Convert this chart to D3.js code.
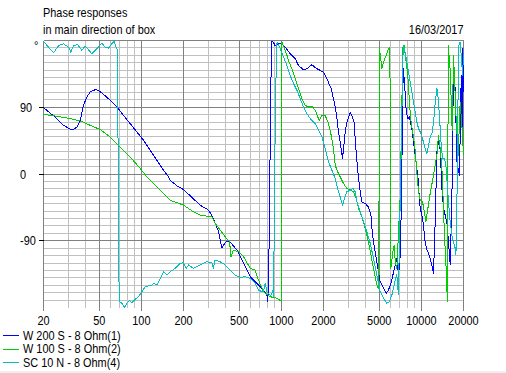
<!DOCTYPE html>
<html><head><meta charset="utf-8">
<script src="https://cdn.jsdelivr.net/npm/d3@7"></script>
<style>
body{margin:0;background:#fff;overflow:hidden}
svg{display:block}
text{font-family:"Liberation Sans",Arial,sans-serif;font-size:13px;fill:#000}
text.lg{font-size:12px}
</style>
</head><body><svg id="c" width="506" height="373"></svg>
<script>
// ---------- data ----------
const titleLines = ["Phase responses", "in main direction of box"];
const dateLabel = "16/03/2017";
const freqTicks = [20, 50, 100, 200, 500, 1000, 2000, 5000, 10000, 20000];
const freqTickLabels = ["20", "50", "100", "200", "500", "1000", "2000", "5000", "10000", "20000"];
const phaseTicks = [90, 0, -90];
const phaseTickLabels = ["90", "0", "-90"];
const seriesNames = ["W 200 S - 8 Ohm(1)", "W 100 S - 8 Ohm(2)", "SC 10 N - 8 Ohm(4)"];
const seriesColors = ["#0000ff", "#00cc00", "#00c0c0"];

const blueFreq = [20,22.3,24.9,27.8,31.0,32.7,34.7,36.6,38.6,40.8,43.1,46.8,49.4,53.7,59.9,67.6,74.5,83.2,92.9,103.6,115.6,129,143.9,156.3,160.7,180,200,263,302,327,356,376,386,408,431,481,537,599,706,788,801,815,828,841,855,879,903,955,1010,1065,1156,1256,1325,1439,1521,1652,1745,1892,2000,2114,2270,2356,2426,2494,2560,2630,2704,2734,2780,2858,2938,3104,3192,3312,3366,3468,3557,3657,3758,3972,4189,4364,4436,4552,4677,4808,4943,5081,5371,5612,5822,6055,6262,6505,6683,6866,6980,7064,7146,7179,7262,7330,7448,7534,7656,7798,8016,8222,8549,8790,9036,9290,9551,9660,9818,10093,10350,10640,10950,11250,11560,11890,12220,12570,12910,13250,13640,14020,14390,15200,15630,16070,16520,16980,17460,17950,18720,19270,19580,19800,20000];
const bluePhase = [89.5,82.2,74.7,65.7,60.3,60.3,63.4,72.4,92.6,103.8,110.5,113.7,112.8,107.4,99.3,89.5,79.1,68,56.7,45.5,32,18.6,5.1,-3.9,-8.6,-16,-20.9,-42,-48.7,-59.9,-77.9,-99.5,-95.8,-90.4,-91.8,-102.6,-120.5,-138.5,-152,-163,-172,-113,2,119,179,177,173,175.6,175.6,171,162,155.5,146.4,140.6,142,147.4,143.3,139.7,137.4,128.5,115,101.6,90.3,74.7,56.7,43,27.6,20.9,34.3,56.7,70,82.8,79,70,47.8,16.3,-6,-24,-37.5,-39.7,-44.3,-55.5,-73.4,-91.4,-104.8,-118.3,-131.8,-145.2,-154,-160.8,-156.4,-147.4,-136.2,-122.7,-113.7,-136.2,-122.7,-109.3,-77.9,-28.5,7.4,97,142,128.5,110.5,83.6,74.7,76.9,61.2,43.2,25.3,7.4,-10.6,-33,-46.4,-55.5,-68.9,-91.4,-102.6,-107,-113.7,-122.7,-133.9,-62,29.7,43.2,32,-19.5,-46.4,-64.5,-91.4,-122.7,-35,150.9,112.8,16.3,-1.6,133,60,170,110];

const greenFreq = [20,24.9,31.0,36.6,43.1,50.8,59.9,70.6,83.2,98.2,109.5,160.7,200,235.6,263,319,336,366,397,427,436,455,494,537,599,650,686,745,832,929,970,999,1003,1007,1036,1065,1096,1125,1188,1256,1325,1403,1479,1563,1652,1745,1862,1950,2056,2172,2270,2356,2426,2494,2630,2780,2938,3104,3274,3428,3557,3758,3972,4189,4364,4552,4755,4862,4943,4985,5024,5227,5371,5612,5822,5920,5990,6040,6055,6262,6400,6505,6683,7064,7262,7380,7534,7656,7870,8090,8222,8420,8549,8790,9036,9290,9551,9818,10190,10520,10770,11130,11560,12220,12910,13250,13640,14020,14390,14620,14960,15200,15380,15560,16070,16600,16980,17740,18340,18930,19580,20000];
const greenPhase = [80.5,77.8,74.7,71.5,65.7,59.9,49.9,36.5,23,7.4,-3.9,-35.3,-42,-51,-55.5,-57.7,-66.6,-75.6,-84.7,-91.4,-111.6,-102.6,-104.8,-111.6,-127.2,-129.5,-142.9,-158.7,-165.4,-167.6,-170,-170,-89,178,173,166.6,160,153,142,128.5,115,101.6,92.6,90.3,91.3,85.9,72.4,79.1,79.1,68,52.2,34.3,11.8,5.1,-3.9,-12.8,-19.5,-21.8,-24,-33,-46.4,-57.7,-73.4,-91.4,-109.3,-127.2,-145.2,-152,-153.7,-35,169,142,151,160,169,170,117,-120,-127,-105,-96,-118,-127,-28.5,97,171,173,162,144,121.8,94.9,72.4,63.4,50,32,0.7,-24,-35,-37.5,-51,-64.5,-46.4,-26.2,-1.6,25.3,52,34,7.4,-46,-82,-118,-154,-172,173,140,59,160,72,25,97,59,25];

const cyanFreq = [20,21.7,23.6,25.6,27.8,30.2,31.4,32.7,35.0,37.6,39.7,41.9,44.3,48.1,52.2,55.2,58.2,61.6,64.0,66.1,67.6,67.9,68.6,69.8,72.6,75.8,78.8,82.3,85.5,90.4,95.5,100.9,106.5,112.5,118.9,123.6,129,136.4,143.9,152.1,160.7,174.6,189.3,200,209,217,235.6,263,294,319,327,336,366,397,431,468,506,552,599,650,686,726,745,767,788,809,840,867,881,893,903,914,923,933,981,1036,1096,1156,1222,1292,1364,1439,1521,1607,1745,1842,1950,2056,2172,2270,2426,2560,2674,2734,2825,2938,3104,3244,3366,3468,3657,3862,4083,4316,4552,4808,5081,5371,5676,5920,6163,6325,6505,6683,6798,6866,6950,7064,7246,7363,7448,7656,7870,8090,8320,8549,8790,9036,9290,9551,9818,10093,10350,10640,10950,11250,11560,11890,12220,12570,12910,13130,13400,13640,13870,14170,14620,14960,15200,15630,16070,16520,16980,17460,17660,17950,18200,18460,18930,19270,19680,20000];
const cyanPhase = [179,171,163.5,173,175.6,171,164,173,174.7,166.6,172.4,167.6,162,169,176.5,171,169.7,175.6,179,171,166.6,119.5,-113.7,-172,-174.3,-179.7,-174.3,-170.8,-173.5,-169,-165.4,-158.7,-152,-151,-149.7,-147.4,-149.7,-140.6,-131.8,-136.2,-131.8,-127.2,-120.5,-119.7,-127.2,-122.7,-127.2,-122.7,-118.3,-119.7,-127.2,-116,-118.3,-122.7,-129.5,-136.2,-139.3,-138.5,-140.6,-147.4,-156.4,-158.7,-158.7,-147.4,-158.7,-160.8,-164.5,-157.7,-165.4,-28.5,56.7,119.5,169,178,169,157.6,146.4,133,121.8,112.8,101.6,90.3,81.4,74.7,68,59,50,34.3,16.3,7.4,-6,-24,-35.3,-42,-33,-24,-21.8,-19.5,-24,-37.5,-51,-64.5,-78,-93.5,-113.7,-136.2,-158.7,-167.6,-174.3,-172,-163,-154,-143,-136,-154,-163,-103,-35,72,153,173,164,151,137.4,124,110.5,97,83.6,70,61.2,56.7,50,43.2,34.3,27.6,38.8,50,54.5,70,97,115,106,83.6,61.2,38.8,20.9,20.9,11.8,-6,-37.5,-64.5,-82.4,-91.4,-100.3,-109.3,-37.5,72,173,178,160,133,160];

// ---------- layout ----------
const svg = d3.select("#c");
const L = 43.5, R = 463.5, T = 40.5, B = 307.5;
const x = d3.scaleLog().domain([20, 20000]).range([L, R]);
const y = d3.scaleLinear().domain([-180, 180]).range([B, T]);
const snap = v => Math.round(v - 0.5) + 0.5;
const SX = 0.84; // horizontal squeeze to mimic the narrow system font

function label(g, tx, ty, str, anchor, sx, cls) {
  return g.append("text")
    .attr("class", cls || null)
    .attr("transform", `translate(${tx},${ty}) scale(${sx || SX},1)`)
    .attr("text-anchor", anchor || "start")
    .text(str);
}

svg.append("rect").attr("x",0).attr("y",371).attr("width",506).attr("height",2).attr("fill","#f0f0f0");

const grid = svg.append("g").attr("shape-rendering","crispEdges");
const hLines = d3.range(-170, 181, 10);
grid.selectAll("line.h").data(hLines).join("line")
  .attr("x1", L).attr("x2", R)
  .attr("y1", d => snap(y(d))).attr("y2", d => snap(y(d)))
  .attr("stroke", "#c0c0c0");
const vMinor = x.ticks().filter(f => !freqTicks.some(t => Math.abs(t - f) < 1e-6));
grid.selectAll("line.vm").data(vMinor).join("line")
  .attr("x1", d => snap(x(d))).attr("x2", d => snap(x(d)))
  .attr("y1", T).attr("y2", B)
  .attr("stroke", "#c0c0c0");
grid.selectAll("line.vM").data(freqTicks).join("line")
  .attr("x1", d => snap(x(d))).attr("x2", d => snap(x(d)))
  .attr("y1", T).attr("y2", B + 3)
  .attr("stroke", "#808080");
grid.selectAll("line.hd").data(hLines.filter(d => d % 90 === 0)).join("line")
  .attr("x1", L).attr("x2", R)
  .attr("y1", d => snap(y(d))).attr("y2", d => snap(y(d)))
  .attr("stroke", "#808080");
grid.selectAll("line.yt").data(phaseTicks).join("line")
  .attr("x1", L - 5).attr("x2", L)
  .attr("y1", d => snap(y(d))).attr("y2", d => snap(y(d)))
  .attr("stroke", "#000");

// axis labels
const labels = svg.append("g");
freqTicks.forEach((f, i) => label(labels, x(f), 324.5, freqTickLabels[i], "middle"));
phaseTicks.forEach((p, i) => label(labels, 20, y(p) + 4.6, phaseTickLabels[i]));
label(labels, 34, 50, "°");

// titles
label(labels, 43, 16.5, titleLines[0]);
label(labels, 43, 33.5, titleLines[1]);
label(labels, 463.5, 33.5, dateLabel, "end");

// series
svg.append("clipPath").attr("id", "pc").append("rect")
  .attr("x", L - 1).attr("y", T - 1).attr("width", R - L + 2).attr("height", B - T + 2);
const line = d3.line().x(d => x(d[0])).y(d => y(d[1]));
const series = [
  d3.zip(blueFreq, bluePhase),
  d3.zip(greenFreq, greenPhase),
  d3.zip(cyanFreq, cyanPhase)
];
svg.append("g").attr("clip-path", "url(#pc)")
  .selectAll("path").data(series).join("path")
  .attr("d", line).attr("fill", "none")
  .attr("stroke", (d, i) => seriesColors[i]).attr("stroke-width", 1)
  .attr("shape-rendering", "crispEdges")
  .attr("stroke-linejoin", "round");

// legend
const lg = svg.append("g");
const legendY = [335.5, 349, 362.5];
seriesNames.forEach((n, i) => {
  lg.append("line").attr("x1", 3).attr("x2", 19).attr("y1", legendY[i]).attr("y2", legendY[i])
    .attr("stroke", seriesColors[i]).attr("shape-rendering", "crispEdges");
  label(lg, 23, legendY[i] + 4.2, n, "start", 0.91, "lg");
});
</script>
</body></html>
